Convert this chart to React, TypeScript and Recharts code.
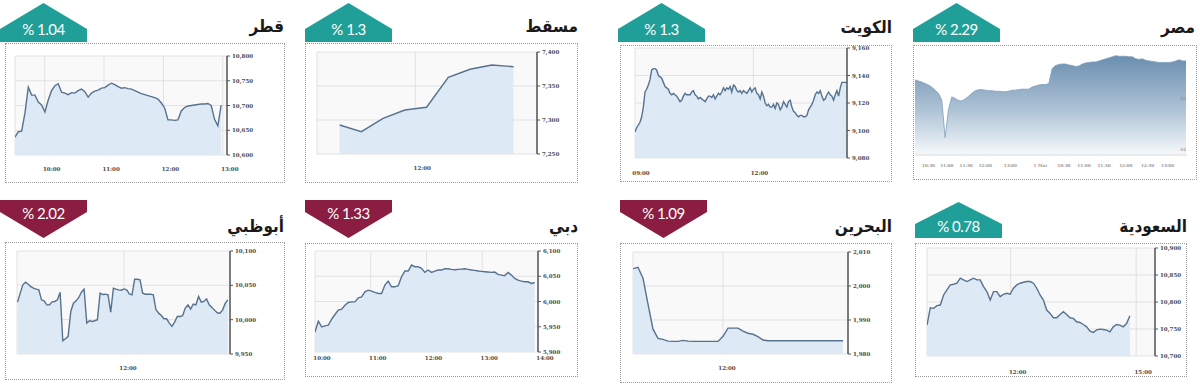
import React from 'react';
import { AreaChart, Area, XAxis, YAxis, CartesianGrid } from 'recharts';

// ---------------- DATA ----------------
const QATAR_VALUES = [10636,10647,10648,10685,10737,10721,10721,10707,10701,10687,10711,10730,10740,10744,10727,10725,10722,10726,10725,10730,10733,10728,10717,10725,10729,10731,10735,10736,10741,10745,10742,10738,10735,10736,10734,10733,10730,10727,10724,10722,10720,10718,10716,10713,10705,10695,10671,10671,10670,10671,10689,10696,10699,10700,10701,10702,10703,10703,10704,10700,10672,10659,10701];
const QATAR_START = 9.5;
const QATAR_STEP = 0.056;
const QATAR_Y_TICKS = [10600, 10650, 10700, 10750, 10800];
const QATAR_X_TICKS = [10, 11, 12, 13];

const MUSCAT_VALUES = [7292.6, 7282.8, 7302.5, 7314.7, 7318.7, 7362.8, 7374.6, 7380.9, 7378.4];
const MUSCAT_START = 11.13;
const MUSCAT_STEP = 0.25;
const MUSCAT_Y_TICKS = [7250, 7300, 7350, 7400];
const MUSCAT_X_TICKS = [12];

const KUWAIT_VALUES = [9099,9102,9104,9106,9110,9117,9128,9130,9133,9137,9144,9145,9145,9144,9140,9139,9138,9135,9132,9131,9130,9127,9126,9127,9126,9125,9123,9121,9122,9125,9127,9126,9126,9126,9128,9129,9126,9125,9123,9124,9123,9122,9121,9123,9125,9125,9124,9126,9123,9125,9127,9126,9128,9131,9129,9131,9130,9132,9128,9133,9132,9129,9128,9129,9127,9129,9128,9127,9129,9131,9128,9130,9131,9127,9126,9123,9128,9125,9120,9118,9119,9117,9117,9119,9116,9120,9119,9115,9117,9121,9119,9117,9121,9122,9117,9114,9113,9111,9110,9111,9111,9110,9110,9111,9115,9117,9119,9122,9126,9128,9127,9129,9125,9122,9123,9126,9128,9126,9125,9122,9126,9129,9125,9131,9135,9135,9135,9135];
const KUWAIT_START = 9.0;
const KUWAIT_STEP = 0.04227;
const KUWAIT_Y_TICKS = [9080, 9100, 9120, 9140, 9160];
const KUWAIT_X_TICKS = [9, 12];

const EGYPT_VALUES = [8536,8534,8532,8529,8526,8522,8516,8510,8497,8424,8478,8503,8500,8496,8495,8499,8504,8510,8515,8517,8517,8516,8515,8515,8514,8514,8513,8513,8514,8516,8516,8517,8518,8518,8518,8522,8524,8526,8527,8527,8529,8558,8564,8566,8567,8567,8565,8564,8562,8563,8567,8569,8570,8571,8571,8573,8575,8577,8579,8581,8583,8582,8582,8582,8581,8581,8577,8576,8577,8574,8573,8572,8571,8570,8570,8570,8570,8571,8573,8575,8573,8573];
const EGYPT_Y_TICKS = [8400, 8500];
const EGYPT_Y_LABELS = ['84', '85'];
const EGYPT_X_TICKS = [4, 9.5, 15.3, 21, 28.5, 37.5, 44.5, 50.5, 56.5, 63, 69.5, 75.5];
const EGYPT_X_LABELS = ['10:30', '11:00', '11:30', '12:00', '13:00', '1 Mar', '10:30', '11:00', '11:30', '12:00', '12:30', '13:00'];

const ABUDHABI_VALUES = [10025.5,10038.6,10050.7,10054.5,10051.6,10048.2,10045.8,10044.4,10043.4,10028.9,10027.4,10021.6,10021.6,10026,10026.5,10028.9,10040,9969.4,9972.3,9975.7,10012,10024,10027.4,10032.3,10040,10044.4,9995,9998.4,9997.4,9998.4,9999.9,10038.6,10036.6,10037.1,10036.1,10011,10045.8,10044.4,10043.4,10042.9,10044.8,10043.4,10037.6,10036.1,10058.9,10058.9,10057.9,10038.6,10037.1,10037.1,10037.1,10036.1,10014.4,10009.5,10006.1,10001.3,10001.3,9995,9990.2,9996.5,10004.7,10004.7,10005.7,10016.8,10021.6,10015.3,10022.6,10021.6,10033.7,10025.5,10026.5,10030.3,10021.6,10017.8,10013.9,10010,10009.5,10013.9,10023.6,10028.9];
const ABUDHABI_START = 10.0;
const ABUDHABI_STEP = 0.05;
const ABUDHABI_Y_TICKS = [9950, 10000, 10050, 10100];
const ABUDHABI_X_TICKS = [12];

const DUBAI_VALUES = [5939.7,5960.9,5949.7,5951.7,5953,5964.9,5974.2,5982.8,5984.8,5992.7,5998,5999.3,5999.3,6007.3,6009.3,6019.2,6022.5,6020.5,6017.9,6015.9,6015.9,6032.5,6040.4,6029.1,6029.1,6031.1,6049,6060.3,6060.3,6072.2,6068.9,6068.9,6065.6,6057.6,6062.3,6057.6,6060.3,6062.3,6062.3,6064.9,6064.9,6063.6,6062.9,6063.6,6064.2,6064.9,6063.6,6062.3,6061.6,6060.3,6059.6,6058.9,6058.3,6057.6,6058.3,6053.6,6052.3,6051,6057.6,6052.3,6045.7,6042.4,6040.4,6039.1,6039.1,6035.8,6037.7];
const DUBAI_START = 10.0;
const DUBAI_STEP = 0.0597;
const DUBAI_Y_TICKS = [5900, 5950, 6000, 6050, 6100];
const DUBAI_X_TICKS = [10, 11, 12, 13, 14];

const BAHRAIN_VALUES = [2005.1,2005.5,2002.3,1994.7,1987.3,1984.6,1984.3,1983.8,1983.7,1983.7,1984.0,1983.8,1983.7,1983.7,1983.7,1983.7,1983.7,1983.7,1985.2,1987.6,1987.6,1987.6,1986.7,1986.1,1985.8,1985.1,1984.1,1983.9,1983.9,1983.9,1983.9,1983.9,1983.9,1983.9,1983.9,1983.9,1983.9,1983.9,1983.9,1983.9,1983.9,1983.9,1983.9];
const BAHRAIN_START = 10.5;
const BAHRAIN_STEP = 1 / 12;
const BAHRAIN_Y_TICKS = [1980, 1990, 2000, 2010];
const BAHRAIN_X_TICKS = [12];

const SAUDI_VALUES = [10757.1,10789.4,10788.2,10793.2,10794.4,10813,10822.4,10831.7,10832.9,10834.8,10844.1,10841,10837.9,10841,10844.1,10841,10841,10828.6,10819.3,10803.7,10819.3,10819.3,10809.9,10814.3,10816.1,10814.3,10825.5,10831.7,10834.8,10836.6,10837.9,10837.9,10834.8,10825.5,10813,10803.7,10785.1,10778.9,10770.8,10770.8,10777,10782,10777,10770.8,10769.6,10763.4,10762.1,10758.4,10754,10746,10743.5,10748.4,10749.7,10749.1,10747.8,10744.7,10754,10758.4,10757.1,10754,10760.2,10774.5];
const SAUDI_START = 10.0;
const SAUDI_STEP = 0.0795;
const SAUDI_Y_TICKS = [10700, 10750, 10800, 10850, 10900];
const SAUDI_X_TICKS = [12, 15];

// ---------------- HELPERS ----------------
const series = (vals: number[], start: number, step: number) =>
  vals.map((v, i) => ({ t: +(start + i * step).toFixed(4), v }));
const hh = (h: number) => `${String(Math.round(h)).padStart(2, '0')}:00`;
const num = (v: number) => v.toLocaleString('en-US');

const TEAL = '#1f9f98';
const MAROON = '#8b1d42';
const LINE = '#57728f';
const FILL = '#dde9f5';
const TICK_FONT = "'DejaVu Serif', serif";

interface Rect { x0: number; y0: number; x1: number; y1: number }
interface PanelCfg {
  id: string;
  title: string;
  titleRight: number;
  titleTop: number;
  badgeText: string;
  badgeX0: number;
  badgeX1: number;
  up: boolean;
  badgeTop: number;
  badgeShoulder: number;
  badgeBottom: number;
  badgeTextY: number;
  box: Rect;
  plot: Rect;
  data: { t: number; v: number }[];
  xDomain: [number, number];
  xTicks: number[];
  xFmt: (v: number) => string;
  xDx: number;
  xDy: number;
  yDomain: [number, number];
  yTicks: number[];
  yFmt: (v: number) => string;
  egypt?: boolean;
}

const PANELS: PanelCfg[] = [
  {
    id: 'qatar', title: 'قطر', titleRight: 284, titleTop: 17,
    badgeText: '% 1.04', badgeX0: 0, badgeX1: 87, up: true, badgeTop: 3, badgeShoulder: 29, badgeBottom: 42, badgeTextY: 29,
    box: { x0: 5, y0: 43, x1: 285, y1: 183 },
    plot: { x0: 15, y0: 56, x1: 227, y1: 155 },
    data: series(QATAR_VALUES, QATAR_START, QATAR_STEP),
    xDomain: [9.5, 13.07], xTicks: QATAR_X_TICKS, xFmt: hh, xDx: 7, xDy: 14,
    yDomain: [10600, 10800], yTicks: QATAR_Y_TICKS, yFmt: num,
  },
  {
    id: 'muscat', title: 'مسقط', titleRight: 578, titleTop: 17,
    badgeText: '% 1.3', badgeX0: 305, badgeX1: 392, up: true, badgeTop: 3, badgeShoulder: 29, badgeBottom: 42, badgeTextY: 29,
    box: { x0: 305, y0: 43, x1: 578, y1: 183 },
    plot: { x0: 317, y0: 52, x1: 537, y1: 154 },
    data: series(MUSCAT_VALUES, MUSCAT_START, MUSCAT_STEP),
    xDomain: [10.87, 13.4], xTicks: MUSCAT_X_TICKS, xFmt: hh, xDx: 7, xDy: 14,
    yDomain: [7250, 7400], yTicks: MUSCAT_Y_TICKS, yFmt: num,
  },
  {
    id: 'kuwait', title: 'الكويت', titleRight: 892, titleTop: 18,
    badgeText: '% 1.3', badgeX0: 618, badgeX1: 705, up: true, badgeTop: 3, badgeShoulder: 29, badgeBottom: 42, badgeTextY: 29,
    box: { x0: 620, y0: 45, x1: 892, y1: 182 },
    plot: { x0: 635, y0: 48, x1: 847, y1: 158 },
    data: series(KUWAIT_VALUES, KUWAIT_START, KUWAIT_STEP),
    xDomain: [9, 14.37], xTicks: KUWAIT_X_TICKS, xFmt: hh, xDx: 6, xDy: 15,
    yDomain: [9080, 9160], yTicks: KUWAIT_Y_TICKS, yFmt: num,
  },
  {
    id: 'egypt', title: 'مصر', titleRight: 1195, titleTop: 18,
    badgeText: '% 2.29', badgeX0: 913, badgeX1: 1000, up: true, badgeTop: 3, badgeShoulder: 29, badgeBottom: 42, badgeTextY: 29,
    box: { x0: 913, y0: 45, x1: 1197, y1: 180 },
    plot: { x0: 915, y0: 47, x1: 1186, y1: 155 },
    data: series(EGYPT_VALUES, 0, 1),
    xDomain: [0, 81.3], xTicks: EGYPT_X_TICKS,
    xFmt: (v: number) => EGYPT_X_LABELS[EGYPT_X_TICKS.indexOf(v)] ?? '', xDx: 0, xDy: 10,
    yDomain: [8390, 8600], yTicks: EGYPT_Y_TICKS,
    yFmt: (v: number) => EGYPT_Y_LABELS[EGYPT_Y_TICKS.indexOf(v)] ?? '',
    egypt: true,
  },
  {
    id: 'abudhabi', title: 'أبوظبي', titleRight: 284, titleTop: 217,
    badgeText: '% 2.02', badgeX0: 0, badgeX1: 87, up: false, badgeTop: 200, badgeShoulder: 212, badgeBottom: 238, badgeTextY: 213,
    box: { x0: 5, y0: 242, x1: 285, y1: 380 },
    plot: { x0: 17, y0: 251, x1: 230, y1: 354 },
    data: series(ABUDHABI_VALUES, ABUDHABI_START, ABUDHABI_STEP),
    xDomain: [9.99, 13.99], xTicks: ABUDHABI_X_TICKS, xFmt: hh, xDx: 4, xDy: 14,
    yDomain: [9950, 10100], yTicks: ABUDHABI_Y_TICKS, yFmt: num,
  },
  {
    id: 'dubai', title: 'دبي', titleRight: 578, titleTop: 217,
    badgeText: '% 1.33', badgeX0: 305, badgeX1: 392, up: false, badgeTop: 200, badgeShoulder: 212, badgeBottom: 238, badgeTextY: 213,
    box: { x0: 305, y0: 243, x1: 578, y1: 377 },
    plot: { x0: 315, y0: 251, x1: 538, y1: 352 },
    data: series(DUBAI_VALUES, DUBAI_START, DUBAI_STEP),
    xDomain: [10, 14], xTicks: DUBAI_X_TICKS, xFmt: hh, xDx: 7, xDy: 6,
    yDomain: [5900, 6100], yTicks: DUBAI_Y_TICKS, yFmt: num,
  },
  {
    id: 'bahrain', title: 'البحرين', titleRight: 892, titleTop: 217,
    badgeText: '% 1.09', badgeX0: 620, badgeX1: 707, up: false, badgeTop: 200, badgeShoulder: 212, badgeBottom: 238, badgeTextY: 213,
    box: { x0: 620, y0: 243, x1: 892, y1: 383 },
    plot: { x0: 633, y0: 252, x1: 848, y1: 354 },
    data: series(BAHRAIN_VALUES, BAHRAIN_START, BAHRAIN_STEP),
    xDomain: [10.5, 14.083], xTicks: BAHRAIN_X_TICKS, xFmt: hh, xDx: 4, xDy: 14,
    yDomain: [1980, 2010], yTicks: BAHRAIN_Y_TICKS, yFmt: num,
  },
  {
    id: 'saudi', title: 'السعودية', titleRight: 1187, titleTop: 217,
    badgeText: '% 0.78', badgeX0: 915, badgeX1: 1002, up: true, badgeTop: 202, badgeShoulder: 224, badgeBottom: 238, badgeTextY: 226,
    box: { x0: 915, y0: 243, x1: 1187, y1: 377 },
    plot: { x0: 927, y0: 248, x1: 1155, y1: 356 },
    data: series(SAUDI_VALUES, SAUDI_START, SAUDI_STEP),
    xDomain: [10, 15.45], xTicks: SAUDI_X_TICKS, xFmt: hh, xDx: 7, xDy: 16,
    yDomain: [10700, 10900], yTicks: SAUDI_Y_TICKS, yFmt: num,
  },
];

// ---------------- COMPONENTS ----------------
function ChartPanel({ c }: { c: PanelCfg }) {
  const PAD = 5;
  const yW = c.egypt ? 1 : 40;
  const xH = 24;
  const w = c.plot.x1 - c.plot.x0 + PAD + yW;
  const h = c.plot.y1 - c.plot.y0 + PAD + xH;
  const xTick = (p: any) => (
    <text x={p.x + c.xDx} y={p.y + c.xDy} textAnchor="middle" dominantBaseline="central"
      fontSize={c.egypt ? 4.2 : 5.5} fontWeight={600} fontFamily={TICK_FONT} fill={c.egypt ? '#999' : '#4a4a4a'}>
      {c.xFmt(p.payload.value)}
    </text>
  );
  const yTick = (p: any) => (
    c.egypt ? (
      <text x={p.x - 1} y={p.y} textAnchor="end" dominantBaseline="central"
        fontSize={4.5} fontFamily={TICK_FONT} fill="#888">{c.yFmt(p.payload.value)}</text>
    ) : (
      <text x={p.x} y={p.y} textAnchor="start" dominantBaseline="central"
        fontSize={5.5} fontWeight={600} fontFamily={TICK_FONT} fill="#4a4a4a">{c.yFmt(p.payload.value)}</text>
    )
  );
  return (
    <div style={{ position: 'absolute', left: c.plot.x0 - PAD, top: c.plot.y0 - PAD }}>
      <AreaChart width={w} height={h} data={c.data} margin={{ top: PAD, left: PAD, right: 0, bottom: 0 }}>
        {c.egypt ? (
          <CartesianGrid horizontal={false} vertical={false} fill="#ffffff" />
        ) : (
          <CartesianGrid stroke="#dcdcdc" strokeWidth={0.8} fill="#f9f9f9" />
        )}
        <XAxis dataKey="t" type="number" domain={c.xDomain} ticks={c.xTicks} interval={0}
          allowDataOverflow tickSize={0} tickMargin={0} tickLine={false}
          axisLine={c.egypt ? { stroke: '#cfcfcf', strokeWidth: 0.8 } : false}
          height={xH} tick={xTick} />
        <YAxis orientation="right" type="number" domain={c.yDomain} ticks={c.yTicks} interval={0}
          allowDataOverflow width={yW} mirror={!!c.egypt}
          tickSize={c.egypt ? 0 : 3} tickMargin={c.egypt ? 0 : 2}
          tickLine={c.egypt ? false : { stroke: '#555', strokeWidth: 1 }}
          axisLine={c.egypt ? false : { stroke: '#555', strokeWidth: 1.5 }}
          tick={yTick} />
        <Area type="linear" dataKey="v" isAnimationActive={false}
          stroke={c.egypt ? '#7f9dba' : LINE} strokeWidth={c.egypt ? 0.8 : 1.4}
          fill={c.egypt ? 'url(#egyptGrad)' : FILL} fillOpacity={1} dot={false} activeDot={false} />
      </AreaChart>
    </div>
  );
}

function badgePoints(c: PanelCfg) {
  const xm = (c.badgeX0 + c.badgeX1) / 2;
  if (c.up) {
    return `${c.badgeX0},${c.badgeBottom} ${c.badgeX0},${c.badgeShoulder} ${xm},${c.badgeTop} ${c.badgeX1},${c.badgeShoulder} ${c.badgeX1},${c.badgeBottom}`;
  }
  return `${c.badgeX0},${c.badgeTop} ${c.badgeX1},${c.badgeTop} ${c.badgeX1},${c.badgeShoulder} ${xm},${c.badgeBottom} ${c.badgeX0},${c.badgeShoulder}`;
}

export default function App() {
  return (
    <div style={{ position: 'absolute', left: 0, top: 0, width: 1200, height: 385, background: '#ffffff', overflow: 'hidden' }}>
      <svg width={0} height={0} style={{ position: 'absolute' }}>
        <defs>
          <linearGradient id="egyptGrad" x1="0" y1="0" x2="0" y2="1">
            <stop offset="0%" stopColor="#6a8eaf" />
            <stop offset="55%" stopColor="#afc3d6" />
            <stop offset="100%" stopColor="#f6f9fb" />
          </linearGradient>
        </defs>
      </svg>
      {PANELS.map((c) => (
        <div key={c.id + '-box'} style={{
          position: 'absolute', left: c.box.x0, top: c.box.y0,
          width: c.box.x1 - c.box.x0, height: c.box.y1 - c.box.y0,
          border: '1px dotted #9a9a9a', boxSizing: 'border-box',
        }} />
      ))}
      {PANELS.map((c) => <ChartPanel key={c.id} c={c} />)}
      {PANELS.map((c) => (
        <div key={c.id + '-title'} dir="rtl" style={{
          position: 'absolute', right: 1200 - c.titleRight, top: c.titleTop,
          fontFamily: "'DejaVu Sans Condensed', 'DejaVu Sans', sans-serif", fontStretch: 'condensed',
          fontWeight: 'bold', fontSize: 17, lineHeight: '19px',
          color: '#1a1a1a', whiteSpace: 'nowrap',
        }}>{c.title}</div>
      ))}
      <svg width={1200} height={385} style={{ position: 'absolute', left: 0, top: 0, pointerEvents: 'none' }}>
        {PANELS.map((c) => (
          <g key={c.id + '-badge'}>
            <polygon points={badgePoints(c)} fill={c.up ? TEAL : MAROON} />
            <text x={(c.badgeX0 + c.badgeX1) / 2} y={c.badgeTextY} textAnchor="middle" dominantBaseline="central"
              fontFamily="Lato, 'Open Sans', sans-serif" fontSize={15} fill="#ffffff" letterSpacing={-0.5}>
              {c.badgeText}
            </text>
          </g>
        ))}
      </svg>
    </div>
  );
}
